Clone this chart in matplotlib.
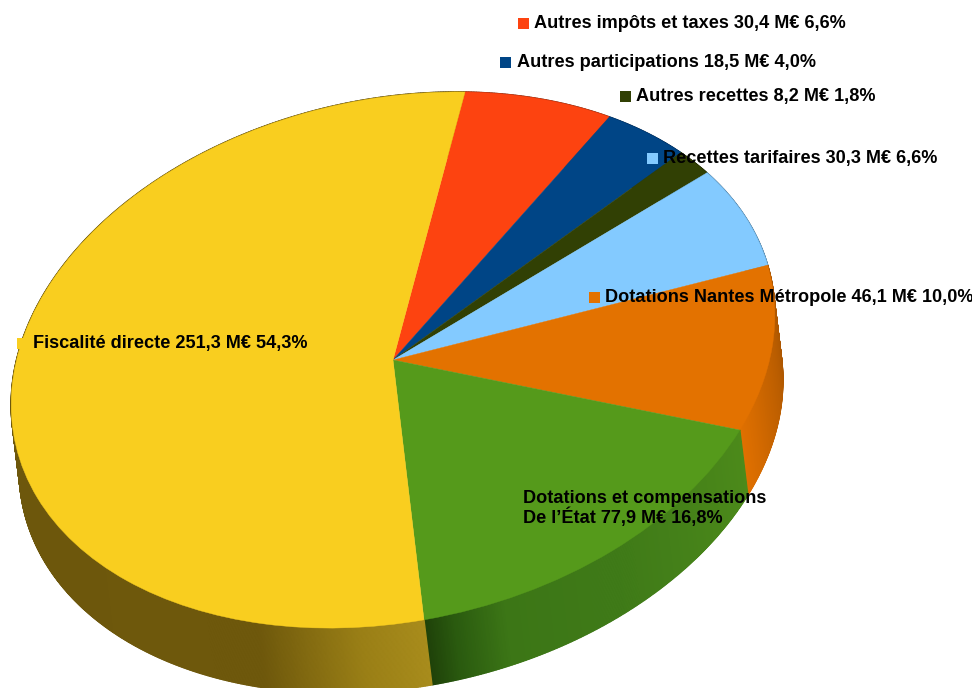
import numpy as np
import matplotlib
matplotlib.use("Agg")
import matplotlib.pyplot as plt
from matplotlib.collections import PolyCollection
from matplotlib.colors import LinearSegmentedColormap
from matplotlib.patches import Circle, Rectangle
from matplotlib.transforms import Affine2D

categories = ["Autres impôts et taxes", "Autres participations", "Autres recettes",
              "Recettes tarifaires", "Dotations Nantes Métropole",
              "Dotations et compensations\nDe l’État", "Fiscalité directe"]
values_meur = [30.4, 18.5, 8.2, 30.3, 46.1, 77.9, 251.3]
value_labels = ["30,4 M€ 6,6%", "18,5 M€ 4,0%", "8,2 M€ 1,8%", "30,3 M€ 6,6%",
                "46,1 M€ 10,0%", "77,9 M€ 16,8%", "251,3 M€ 54,3%"]

top_colors = ["#fd4310", "#004586", "#314004", "#83caff", "#e37200", "#559a1b", "#f9ce1f"]
wall_stops = [["#a03010"] * 2, ["#003060"] * 2, ["#202a02"] * 2, ["#5a8cb0"] * 2,
              [(0, "#a85400"), (0.3, "#b05800"), (0.7, "#c86400"), (1, "#e07000")],
              [(0, "#4c8a1a"), (0.5, "#3f7a18"), (0.8, "#3c7616"), (0.93, "#2a5a0f"), (1, "#1f4209")],
              [(0, "#a88c1c"), (0.05, "#9a7f16"), (0.13, "#6e580c"), (1, "#6b550b")]]
# marker left, marker centre y, text left
label_anchor = [(518, 23, 534), (500, 62, 517), (620, 96, 636), (647, 158, 663),
                (589, 297, 605), (507, 508, 523), (17, 343, 33)]

plt.rcParams["font.family"] = ["Liberation Sans", "DejaVu Sans"]
fig = plt.figure(figsize=(9.72, 6.88), dpi=100)
ax = fig.add_axes([0, 0, 1, 1])

wedges, _ = ax.pie(values_meur, colors=top_colors, startangle=90, counterclock=False,
                   wedgeprops=dict(linewidth=0.3))
ax.set_aspect("auto")
ax.set_xlim(0, 972)
ax.set_ylim(688, 0)
ax.axis("off")

# tilted disc: unit circle -> picture
tilt = Affine2D(np.array([[375, 72, 393], [6, -268, 360], [0, 0, 1]], float))
drop = Affine2D().translate(8, 65)

for w in wedges:
    w.set_transform(tilt + ax.transData)
    w.set_zorder(3)
    w.set_edgecolor(w.get_facecolor())

rim = Circle((0, 0), 1, facecolor="none", edgecolor="#b8b8b8", linewidth=1.0,
             transform=tilt + ax.transData, zorder=1)
ax.add_patch(rim)

for w, stops in zip(wedges, wall_stops):
    cmap = LinearSegmentedColormap.from_list("w", stops, N=1024)
    n = max(int(abs(w.theta2 - w.theta1) * 4), 2)
    th = np.radians(np.linspace(w.theta2, w.theta1, n + 1))  # clockwise
    pts = np.column_stack([np.cos(th), np.sin(th)])
    up = tilt.transform(pts)
    dn = drop.transform(up)
    # base fill first so that no seams show between the shaded strips
    ax.fill(np.r_[up[:, 0], dn[::-1, 0]], np.r_[up[:, 1], dn[::-1, 1]],
            color=cmap(0.6), linewidth=0, zorder=1.5)
    quads = [[up[i], up[i + 1], dn[i + 1], dn[i]] for i in range(n)]
    cols = cmap((np.arange(n) + 0.5) / n)
    ax.add_collection(PolyCollection(quads, facecolors=cols, edgecolors=cols,
                                     linewidths=1.0, zorder=2))

for cat, vl, col, (mx, my, tx) in zip(categories, value_labels, top_colors, label_anchor):
    ax.add_patch(Rectangle((mx, my - 5), 10.5, 10.5, facecolor=col, edgecolor="none", zorder=4))
    ax.text(tx, my + 0.5, f"{cat} {vl}", fontsize=13.1, fontweight="bold", color="black",
            ha="left", va="center", linespacing=1.0, zorder=5)

fig.savefig("out.png", dpi=100, facecolor="white")
